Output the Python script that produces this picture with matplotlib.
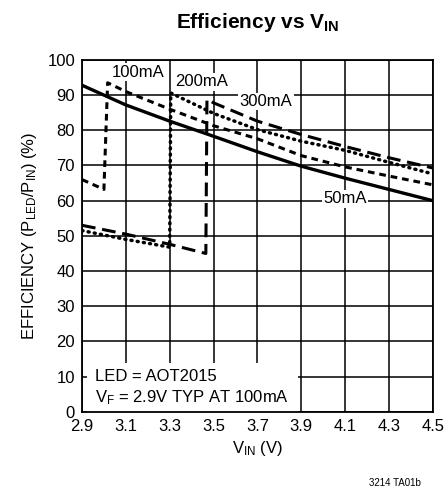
import matplotlib.pyplot as plt
from matplotlib import font_manager

names = {f.name for f in font_manager.fontManager.ttflist}
font = 'Liberation Sans Narrow' if 'Liberation Sans Narrow' in names else 'Liberation Sans'
plt.rcParams['font.family'] = [font, 'DejaVu Sans']
plt.rcParams['mathtext.fontset'] = 'custom'
plt.rcParams['mathtext.rm'] = font
plt.rcParams['mathtext.bf'] = font + ':bold'

# data
vin_50 = [2.9, 3.1, 3.3, 3.5, 3.7, 3.9, 4.1, 4.3, 4.5]
eff_50 = [92.8, 87.2, 82.6, 78.3, 73.9, 69.8, 66.4, 63.2, 60.0]

vin_100 = [2.9, 3.0, 3.017, 3.1, 3.3, 3.5, 3.7, 3.9, 4.1, 4.3, 4.5]
eff_100 = [66.0, 63.2, 93.5, 91.0, 86.0, 81.3, 77.6, 72.8, 69.6, 67.0, 64.5]

vin_200 = [2.9, 3.1, 3.3, 3.305, 3.5, 3.7, 3.9, 4.1, 4.3, 4.5]
eff_200 = [51.5, 49.0, 46.8, 90.6, 84.8, 80.2, 76.9, 74.3, 70.9, 67.6]

vin_300 = [2.9, 3.1, 3.3, 3.465, 3.47, 3.5, 3.7, 3.9, 4.1, 4.3, 4.5]
eff_300 = [53.0, 50.5, 47.6, 45.0, 88.8, 87.8, 82.6, 78.8, 75.4, 72.2, 69.3]

x_ticks = [2.9, 3.1, 3.3, 3.5, 3.7, 3.9, 4.1, 4.3, 4.5]
y_ticks = list(range(0, 101, 10))

fig = plt.figure(figsize=(4.48, 4.95), dpi=100)
ax = fig.add_axes([0.183, 0.168, 0.783, 0.711])

ax.plot(vin_50, eff_50, color='black', lw=2.4, solid_capstyle='butt', zorder=3)
ax.plot(vin_100, eff_100, color='black', lw=2.2, linestyle=(0, (2.2, 1.6)), zorder=3)
ax.plot(vin_200, eff_200, color='black', lw=2.5, linestyle=(0, (0.3, 1.5)), dash_capstyle='round', zorder=3)
ax.plot(vin_300, eff_300, color='black', lw=2.2, linestyle=(0, (4.5, 2.2)), zorder=3)

ax.set_xlim(2.9, 4.5)
ax.set_ylim(0, 100)
ax.set_xticks(x_ticks)
ax.set_yticks(y_ticks)
ax.set_xticklabels([f'{v:.1f}' for v in x_ticks])
ax.tick_params(length=0, labelsize=12, pad=5)
ax.grid(True, color='black', lw=1.1)
ax.set_axisbelow(True)
for s in ax.spines.values():
    s.set_linewidth(1.3)
    s.set_zorder(6)

box = dict(facecolor='white', edgecolor='none', pad=1)
ax.text(3.155, 96.5, '100mA', fontsize=12, ha='center', va='center', bbox=box, zorder=4)
ax.text(3.445, 93.8, '200mA', fontsize=12, ha='center', va='center', bbox=box, zorder=4)
ax.text(3.74, 88.2, '300mA', fontsize=12, ha='center', va='center', bbox=box, zorder=4)
ax.text(4.10, 60.5, '50mA', fontsize=12, ha='center', va='center', bbox=box, zorder=4)

ax.text(2.96, 1.5, 'LED = AOT2015\n$\\mathregular{V_F}$ = 2.9V TYP AT 100mA', fontsize=12,
        ha='left', va='bottom', linespacing=1.25,
        bbox=dict(facecolor='white', edgecolor='none', pad=6), zorder=4)

ax.set_xlabel('$\\mathregular{V_{IN}}$ (V)', fontsize=12, labelpad=4)
ax.set_ylabel('EFFICIENCY ($\\mathregular{P_{LED}/P_{IN}}$) (%)', fontsize=12, labelpad=6)
fig.text(0.574, 0.955, 'Efficiency vs $\\mathbf{V_{IN}}$', fontsize=15, fontweight='bold',
         ha='center', va='center')
fig.text(0.94, 0.015, '3214 TA01b', fontsize=7, ha='right', va='bottom')

fig.savefig('out.png', dpi=100)
